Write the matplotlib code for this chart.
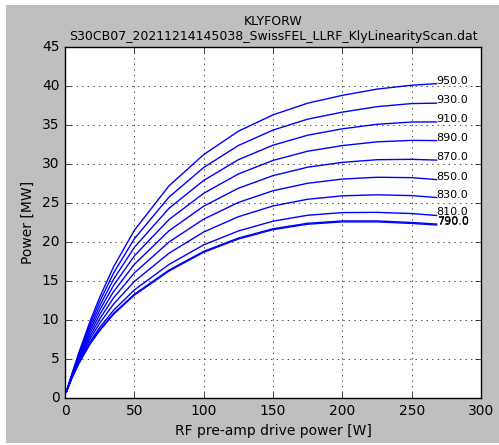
import matplotlib
matplotlib.use("Agg")
import matplotlib.pyplot as plt
from matplotlib.patches import Rectangle

### --- データ --- ###
drive = [1, 5, 10, 18, 25, 35, 50, 75, 100, 125, 150, 175, 200, 225, 250, 268]

labels = ["950.0", "930.0", "910.0", "890.0", "870.0", "850.0", "830.0", "810.0", "790.0", "790.0"]

p950 = [0.8, 3.10, 5.80, 9.80, 12.90, 16.80, 21.50, 27.20, 31.20, 34.20, 36.30, 37.80, 38.80, 39.60, 40.10, 40.30]
p930 = [0.8, 3.03, 5.63, 9.43, 12.35, 16.01, 20.41, 25.76, 29.55, 32.37, 34.35, 35.75, 36.65, 37.35, 37.75, 37.80]
p910 = [0.8, 2.97, 5.45, 9.05, 11.79, 15.21, 19.31, 24.32, 27.89, 30.55, 32.41, 33.69, 34.51, 35.09, 35.38, 35.40]
p890 = [0.8, 2.90, 5.28, 8.68, 11.24, 14.42, 18.22, 22.88, 26.24, 28.72, 30.46, 31.64, 32.36, 32.84, 33.03, 33.00]
p870 = [0.8, 2.83, 5.11, 8.31, 10.69, 13.63, 17.13, 21.44, 24.59, 26.89, 28.51, 29.59, 30.21, 30.55, 30.60, 30.50]
p850 = [0.8, 2.77, 4.93, 7.93, 10.13, 12.83, 16.03, 20.00, 22.93, 25.07, 26.57, 27.53, 28.07, 28.30, 28.25, 28.00]
p830 = [0.8, 2.70, 4.76, 7.56, 9.58, 12.04, 14.94, 18.56, 21.28, 23.24, 24.62, 25.48, 25.92, 26.05, 25.95, 25.70]
p810 = [0.8, 2.63, 4.59, 7.19, 9.03, 11.25, 13.85, 17.12, 19.63, 21.41, 22.67, 23.43, 23.77, 23.80, 23.65, 23.40]
p790 = [0.8, 2.60, 4.50, 7.00, 8.75, 10.85, 13.30, 16.40, 18.80, 20.50, 21.70, 22.40, 22.70, 22.70, 22.50, 22.30]
p790b = [0.8, 2.56, 4.42, 6.90, 8.63, 10.73, 13.18, 16.28, 18.68, 20.38, 21.58, 22.28, 22.58, 22.58, 22.38, 22.18]

curves = [p950, p930, p910, p890, p870, p850, p830, p810, p790, p790b]

plt.style.use("classic")
plt.rcParams["font.family"] = "DejaVu Sans"

fig = plt.figure(figsize=(4.99, 4.45), dpi=100, facecolor="white")
# 灰色の背景 (少し白い縁が残る)
fig.patches.append(Rectangle((6 / 499, 2 / 445), 493 / 499, 438 / 445,
                             transform=fig.transFigure, facecolor="#bfbfbf",
                             edgecolor="none", zorder=-10))

ax = fig.add_axes([65 / 499, 47 / 445, 416 / 499, 351 / 445])

for lab, p in zip(labels, curves):
    ax.plot(drive, p, color="b", lw=1)
    ax.text(drive[-1], p[-1], lab, fontsize=8)

ax.set_xlim(0, 300)
ax.set_ylim(0, 45)
ax.grid(True, color="k", linestyle=":", linewidth=0.5)
ax.tick_params(labelsize=10)
ax.set_xlabel("RF pre-amp drive power [W]", fontsize=10)
ax.set_ylabel("Power [MW]", fontsize=10)
ax.set_title("KLYFORW\nS30CB07_20211214145038_SwissFEL_LLRF_KlyLinearityScan.dat", fontsize=9)

fig.savefig("out.png", dpi=100, facecolor=fig.get_facecolor())
